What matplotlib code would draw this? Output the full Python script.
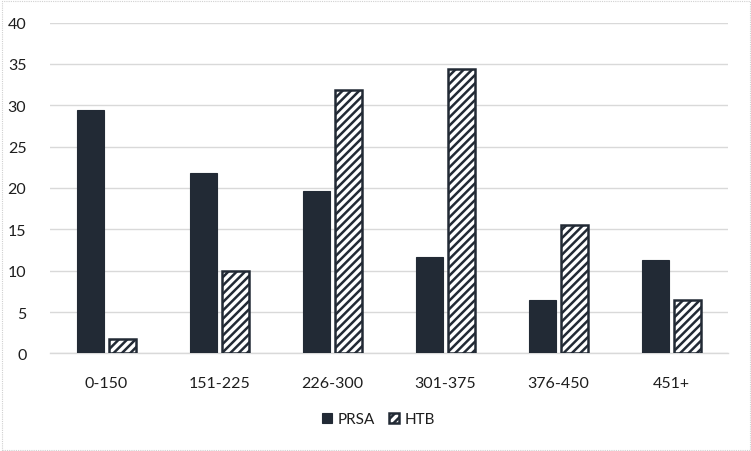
import matplotlib
matplotlib.use("Agg")
import matplotlib.pyplot as plt
import numpy as np
from matplotlib.patches import Rectangle

categories = ["0-150", "151-225", "226-300", "301-375", "376-450", "451+"]
prsa = [29.4, 21.8, 19.6, 11.7, 6.5, 11.3]
htb = [1.8, 10.0, 31.9, 34.4, 15.5, 6.4]
yticks = [0, 5, 10, 15, 20, 25, 30, 35, 40]

dark = "#222A35"
text_color = "#1E1E1E"
grid_color = "#D9D9D9"

plt.rcParams['font.family'] = ['Lato', 'DejaVu Sans']
plt.rcParams['hatch.linewidth'] = 1.8
plt.rcParams['hatch.color'] = dark

W, H = 751, 452
fig = plt.figure(figsize=(W / 100, H / 100), dpi=100)
ax = fig.add_axes([50 / W, 1 - 354.4 / H, (728 - 50) / W, (354.4 - 23.6) / H])

x = np.arange(len(categories))
bw = 0.24
gap = 0.05
ax.bar(x - (bw + gap) / 2, prsa, width=bw, color=dark, edgecolor=dark, linewidth=0.8, label="PRSA", zorder=3)
ax.bar(x + (bw + gap) / 2, htb, width=bw, color="white", edgecolor=dark, linewidth=1.8, hatch="////", label="HTB", zorder=3)

ax.set_xlim(-0.5, len(categories) - 0.5)
ax.set_ylim(0, 40)
ax.set_yticks(yticks)
ax.set_yticklabels([str(v) for v in yticks])
ax.set_xticks(x)
ax.set_xticklabels(categories)
ax.tick_params(axis='both', length=0, labelsize=11.5, colors=text_color)
ax.tick_params(axis='y', pad=17)
ax.tick_params(axis='x', pad=16)
ax.grid(axis='y', color=grid_color, linewidth=1.0, zorder=0)
for s in ["top", "right", "left"]:
    ax.spines[s].set_visible(False)
ax.spines["bottom"].set_color(grid_color)
ax.spines["bottom"].set_linewidth(1.0)

leg = fig.legend(loc="center", bbox_to_anchor=(0.504, 1 - 420 / H), ncol=2, frameon=False,
                 fontsize=11, handlelength=0.65, handleheight=0.65, handletextpad=0.4,
                 columnspacing=0.9, labelcolor=text_color)

fig.patches.append(Rectangle((1.5 / W, 1.5 / H), 1 - 3 / W, 1 - 3 / H, transform=fig.transFigure,
                             fill=False, edgecolor="#D0D0D0", linewidth=0.8, linestyle=(0, (1, 1))))

fig.savefig("out.png", dpi=100)
